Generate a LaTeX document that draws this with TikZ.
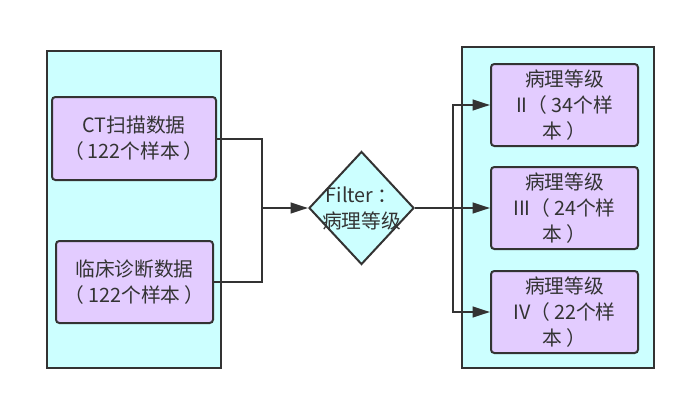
\documentclass[tikz,border=0pt]{standalone}
\usepackage{fontspec}
\setmainfont{Noto Sans CJK SC}
\usetikzlibrary{shapes.geometric,arrows.meta}
\definecolor{cyanfill}{HTML}{CCFFFF}
\definecolor{purfill}{HTML}{E3CCFF}
\definecolor{edge}{HTML}{333333}
\newcommand{\lp}{（\hspace{0.2em}}
\newcommand{\rp}{\hspace{0.2em}）}
\begin{document}
\begin{tikzpicture}[x=0.75pt,y=-0.75pt,
  container/.style={draw=edge,fill=cyanfill,line width=1.5pt,inner sep=0pt},
  databox/.style={draw=edge,fill=purfill,line width=1.5pt,rounded corners=2.5pt,inner sep=0pt,align=center,text=edge,font=\fontsize{14.8}{19.5}\selectfont},
  decision/.style={diamond,draw=edge,fill=cyanfill,line width=1.5pt,inner sep=0pt,aspect=1},
  lbl/.style={align=center,text=edge,font=\fontsize{14.8}{20}\selectfont,inner sep=0pt},
  conn/.style={draw=edge,line width=1.5pt},
  arr/.style={conn,-{Triangle[length=13pt,width=8pt]}}]
\useasboundingbox (0,0) rectangle (686,400);
% containers
\node[container,minimum width=174*0.75pt,minimum height=317*0.75pt] (lc) at (134,209.5) {};
\node[container,minimum width=192*0.75pt,minimum height=321*0.75pt] (rc) at (558,207.5) {};
% left boxes
\node[databox,minimum width=164*0.75pt,minimum height=83*0.75pt] (ct) at (134,138.5) {CT扫描数据\\\lp 122个样本\rp};
\node[databox,minimum width=157*0.75pt,minimum height=82*0.75pt] (lc2) at (134.5,282) {临床诊断数据\\\lp 122个样本\rp};
% diamond
\node[decision,minimum width=105*0.75pt,minimum height=113*0.75pt] (f) at (361.5,208) {};
\node[lbl] (flabel) at (361.5,208.5) {Filter\hspace{0.2em}：\\病理等级};
% right boxes
\node[databox,minimum width=147*0.75pt,minimum height=82*0.75pt] (g2) at (564.5,105) {病理等级\\II\lp 34个样\\本\rp};
\node[databox,minimum width=147*0.75pt,minimum height=82*0.75pt] (g3) at (564.5,208) {病理等级\\III\lp 24个样\\本\rp};
\node[databox,minimum width=147*0.75pt,minimum height=82*0.75pt] (g4) at (564.5,312) {病理等级\\IV\lp 22个样\\本\rp};
% junctions
\coordinate (j1) at (262,208);
\coordinate (j2) at (453,208);
% connectors
\draw[conn] (ct.east) -| (j1);
\draw[conn] (lc2.east) -| (j1);
\draw[arr] (j1) -- (f.west);
\draw[conn] (f.east) -- (j2);
\draw[arr] (j2) |- (g2.west);
\draw[arr] (j2) -- (g3.west);
\draw[arr] (j2) |- (g4.west);
\end{tikzpicture}
\end{document}
